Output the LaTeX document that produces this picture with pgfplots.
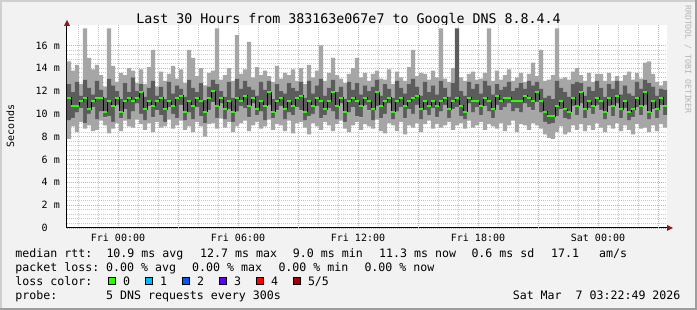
\documentclass[border=0pt]{standalone}
\usepackage{pgfplots}
\pgfplotsset{compat=1.18}
\usepackage{pgfplotstable}
\usepackage{fontspec}
\setmainfont{DejaVu Sans Mono}
\newcommand\fs[1]{\fontsize{#1}{#1}\selectfont}
\definecolor{bgc}{HTML}{F2F2F2}
\definecolor{shadea}{HTML}{CFCFCF}
\definecolor{shadeb}{HTML}{9E9E9E}
\definecolor{gridred}{HTML}{F4A0A0}
\definecolor{gridgray}{HTML}{C8C8C8}
\definecolor{lightsmoke}{HTML}{A6A6A6}
\definecolor{darksmoke}{HTML}{5C5C5C}
\definecolor{arrowc}{HTML}{8B1A1A}
\definecolor{wmc}{HTML}{B4B4B4}
\definecolor{loss0}{HTML}{26FF00}
\definecolor{loss1}{HTML}{00B8FF}
\definecolor{loss2}{HTML}{0059FF}
\definecolor{loss3}{HTML}{5E00FF}
\definecolor{loss4}{HTML}{FF0000}
\definecolor{loss5}{HTML}{A10000}

\pgfplotstableread{
x lo q2 q4 hi
-2.55 7.8 9.4 12.6 14.6
-2.35 8.9 9.6 11.9 13.8
-2.15 8.4 10.1 12.8 14.3
-1.95 9.3 10.5 11.6 12.6
-1.75 8.7 9.2 13.0 17.5
-1.55 9.0 10.0 12.3 14.9
-1.35 8.5 10.6 11.7 13.9
-1.15 8.6 9.5 12.9 14.3
-0.95 9.4 10.2 12.1 13.4
-0.75 9.0 9.7 11.4 12.4
-0.55 8.3 9.8 13.1 17.5
-0.35 8.7 9.3 12.5 14.2
-0.15 9.2 10.8 12.0 12.8
0.05 8.5 9.6 11.3 13.6
0.25 9.4 10.4 12.7 13.4
0.45 8.9 9.5 11.9 14.0
0.65 8.8 10.2 13.2 13.8
0.85 9.5 10.9 12.0 12.7
1.05 9.1 10.0 12.6 13.9
1.25 8.6 9.4 11.5 12.6
1.45 9.2 10.7 12.3 14.1
1.65 8.4 9.7 12.9 15.6
1.85 9.3 10.3 11.6 12.4
2.05 8.8 9.9 12.4 13.7
2.25 8.9 9.3 11.3 12.9
2.45 9.5 10.6 12.8 13.5
2.65 8.7 10.0 11.8 14.2
2.85 9.0 9.6 12.5 13.1
3.05 9.4 10.8 12.2 13.9
3.25 8.6 9.4 11.5 12.7
3.45 8.9 10.1 13.0 15.6
3.65 8.4 9.5 12.3 14.9
3.85 9.3 10.6 11.9 13.3
4.05 8.9 9.8 12.7 14.0
4.25 8.0 9.2 11.2 12.5
4.45 9.1 10.3 12.4 13.6
4.65 9.2 11.0 13.0 13.8
4.85 8.7 9.6 12.6 17.5
5.05 9.6 10.9 12.0 13.0
5.25 8.8 9.5 11.5 13.4
5.45 9.3 10.4 12.8 14.0
5.65 8.4 9.3 11.4 12.9
5.85 8.9 10.2 13.1 16.9
6.05 9.2 10.7 12.2 13.5
6.25 9.4 10.5 12.9 13.9
6.45 8.5 9.7 12.4 16.3
6.65 9.0 10.9 12.1 13.2
6.85 9.3 9.9 11.6 14.1
7.05 8.7 10.2 12.8 13.4
7.25 8.9 9.4 12.1 13.8
7.45 9.5 10.8 12.9 13.3
7.65 8.6 9.6 11.3 12.8
7.85 9.1 10.3 12.6 14.2
8.05 9.0 10.7 12.0 13.1
8.25 8.5 9.5 11.8 13.6
8.45 9.4 10.1 12.7 13.4
8.65 8.3 9.9 12.3 13.9
8.85 9.2 10.6 12.0 12.9
9.05 9.3 10.3 12.8 14.0
9.25 8.8 9.4 11.4 12.6
9.45 8.2 9.8 12.9 14.3
9.65 9.2 10.0 11.8 13.2
9.85 8.9 10.7 12.5 13.8
10.05 8.6 9.6 13.1 16.0
10.25 9.3 9.9 11.6 12.9
10.45 9.0 10.5 12.3 13.6
10.65 8.5 10.2 13.0 14.9
10.85 9.1 9.5 11.9 13.4
11.05 9.4 10.9 12.4 13.1
11.25 8.7 9.3 11.3 12.7
11.45 8.4 10.1 12.8 13.5
11.65 9.0 10.6 12.1 14.0
11.85 9.3 9.8 12.7 14.9
12.05 8.6 9.7 11.7 13.2
12.25 9.1 10.8 12.5 13.6
12.45 8.9 10.3 12.0 12.9
12.65 8.7 9.4 12.4 13.5
12.85 9.5 10.7 13.0 13.8
13.05 8.5 9.6 11.6 13.1
13.25 8.3 10.0 12.6 13.0
13.45 9.2 10.9 12.2 13.9
13.65 9.0 9.5 11.4 12.6
13.85 8.5 10.2 12.9 13.7
14.05 9.3 10.6 12.3 13.2
14.25 8.2 9.6 11.8 12.9
14.45 9.0 10.4 12.6 14.1
14.65 8.8 10.0 13.1 15.6
14.85 9.2 10.8 12.4 13.3
15.05 8.4 9.5 11.6 13.6
15.25 9.1 10.3 12.8 13.5
15.45 9.4 9.9 11.9 13.0
15.65 8.7 10.5 12.5 13.8
15.85 9.1 9.7 11.7 13.2
16.05 8.8 10.2 12.9 17.5
16.25 9.0 10.8 12.3 13.1
16.45 9.3 9.6 11.5 12.8
16.65 8.6 10.4 12.7 14.0
16.85 9.0 10.6 17.5 17.5
17.05 9.2 9.8 12.0 13.2
17.25 8.7 9.5 11.6 12.9
17.45 9.4 10.9 12.8 13.5
17.65 8.8 10.1 12.2 13.7
17.85 9.0 10.6 12.6 13.0
18.05 9.3 9.9 11.8 13.1
18.25 8.6 10.7 12.9 13.6
18.45 9.1 10.2 12.5 17.5
18.65 8.9 9.6 11.7 12.9
18.85 8.7 10.8 12.6 13.8
19.05 9.2 10.3 12.1 13.0
19.25 8.5 10.6 12.4 13.4
19.45 9.0 10.9 12.8 13.9
19.65 9.4 10.2 12.0 12.9
19.85 8.4 10.5 12.3 13.2
20.05 9.1 10.1 12.7 13.6
20.25 9.0 10.9 12.2 12.8
20.45 8.6 10.6 12.9 13.5
20.65 9.2 10.3 12.5 14.5
20.85 9.0 11.0 12.8 13.3
21.05 8.7 10.1 12.2 15.6
21.25 8.2 9.3 11.4 12.9
21.45 7.9 9.1 11.6 13.0
21.65 7.8 9.2 11.3 13.4
21.85 8.4 9.8 12.9 17.5
22.05 8.9 10.4 12.3 13.1
22.25 8.2 9.6 11.9 13.2
22.45 8.4 9.5 11.5 13.0
22.65 9.0 10.7 12.6 13.7
22.85 8.6 9.9 12.8 14.0
23.05 9.1 10.9 12.7 13.4
23.25 8.5 9.6 11.6 12.9
23.45 9.0 10.5 12.4 13.6
23.65 8.6 10.0 12.0 12.8
23.85 9.2 10.8 12.9 13.5
24.05 8.8 10.3 12.3 13.5
24.25 8.4 9.5 11.5 12.9
24.45 9.0 10.7 12.6 13.6
24.65 8.7 9.8 12.2 12.9
24.85 9.2 10.9 12.9 13.3
25.05 8.5 9.6 11.7 12.9
25.25 9.0 10.5 12.5 13.4
25.45 8.6 9.4 11.8 13.7
25.65 8.2 9.7 11.6 13.0
25.85 9.1 10.6 12.8 13.6
26.05 8.7 9.9 12.2 13.1
26.25 8.8 10.8 13.0 14.5
26.45 8.4 9.5 12.7 14.6
26.65 9.0 10.4 12.4 13.5
26.85 8.5 9.6 11.6 12.8
27.05 9.1 10.8 12.2 12.5
27.25 8.8 9.9 12.1 12.9
}\smoke

\pgfplotstableread{
x med
-2.55 11.4
-2.35 10.7
-2.15 10.7
-1.95 11.1
-1.75 11.4
-1.55 10.4
-1.35 11.1
-1.15 11.4
-0.95 11.4
-0.75 10.2
-0.55 11.1
-0.35 10.7
-0.15 11.4
0.05 10.2
0.25 11.1
0.45 11.4
0.65 11.1
0.85 11.4
1.05 11.9
1.25 10.4
1.45 11.1
1.65 10.7
1.85 11.1
2.05 11.4
2.25 10.4
2.45 11.1
2.65 10.7
2.85 11.4
3.05 11.6
3.25 10.2
3.45 11.1
3.65 10.7
3.85 11.4
4.05 11.1
4.25 10.2
4.45 11.4
4.65 12.0
4.85 10.7
5.05 11.4
5.25 10.4
5.45 11.1
5.65 10.2
5.85 11.4
6.05 11.1
6.25 11.6
6.45 10.7
6.65 11.4
6.85 10.4
7.05 11.1
7.25 10.7
7.45 11.9
7.65 10.2
7.85 11.1
8.05 11.4
8.25 10.4
8.45 11.1
8.65 10.7
8.85 11.4
9.05 11.6
9.25 10.2
9.45 11.1
9.65 10.7
9.85 11.4
10.05 11.1
10.25 10.4
10.45 11.1
10.65 11.9
10.85 10.7
11.05 11.4
11.25 10.2
11.45 11.1
11.65 11.4
11.85 11.1
12.05 10.7
12.25 11.4
12.45 11.1
12.65 10.4
12.85 11.9
13.05 10.7
13.25 11.1
13.45 11.4
13.65 10.2
13.85 11.1
14.05 11.4
14.25 10.7
14.45 11.1
14.65 11.4
14.85 11.6
15.05 10.4
15.25 11.1
15.45 10.7
15.65 11.1
15.85 10.7
16.05 11.1
16.25 11.4
16.45 10.4
16.65 11.1
16.85 11.4
17.05 10.7
17.25 10.2
17.45 11.4
17.65 11.1
17.85 11.1
18.05 10.7
18.25 11.4
18.45 11.1
18.65 10.4
18.85 11.6
19.05 11.1
19.25 11.4
19.45 11.4
19.65 11.1
19.85 11.1
20.05 11.1
20.25 11.6
20.45 11.4
20.65 11.1
20.85 11.9
21.05 11.1
21.25 10.2
21.45 9.8
21.65 9.8
21.85 10.7
22.05 11.1
22.25 10.4
22.45 10.2
22.65 11.4
22.85 10.7
23.05 11.9
23.25 10.4
23.45 11.1
23.65 10.7
23.85 11.4
24.05 11.1
24.25 10.2
24.45 11.4
24.65 10.7
24.85 11.6
25.05 10.4
25.25 11.1
25.45 10.2
25.65 10.4
25.85 11.4
26.05 10.7
26.25 11.9
26.45 10.2
26.65 11.1
26.85 10.4
27.05 11.4
27.25 10.7
27.45 10.7
}\median

\begin{document}
\begin{tikzpicture}
\useasboundingbox (0pt,0pt) rectangle (697pt,310pt);
\fill[bgc] (0pt,0pt) rectangle (697pt,310pt);
\fill[shadea] (0pt,308pt) rectangle (697pt,310pt);
\fill[shadea] (0pt,0pt) rectangle (2pt,310pt);
\fill[shadeb] (0pt,0pt) rectangle (697pt,2pt);
\fill[shadeb] (695pt,0pt) rectangle (697pt,310pt);

\node[font=\fs{13.3}, anchor=base, inner sep=0pt] at (348.5pt,286pt) {Last 30 Hours from 383163e067e7 to Google DNS 8.8.4.4};
\node[font=\fs{8.2}, text=wmc, rotate=-90, anchor=west, inner sep=0pt] at (688pt,305pt) {RRDTOOL / TOBI OETIKER};
\node[font=\fs{10}, rotate=90, inner sep=0pt] at (10.5pt,184pt) {Seconds};

\begin{axis}[
  at={(67pt,82pt)}, anchor=south west,
  scale only axis, width=600pt, height=203pt,
  xmin=-2.55, xmax=27.45, ymin=0, ymax=17.79,
  ybar stacked, bar width=0.205,
  axis lines*=left,
  axis line style={black, line width=1pt},
  axis background/.style={fill=white},
  xtick={0,6,12,18,24},
  xticklabels={Fri 00:00,Fri 06:00,Fri 12:00,Fri 18:00,Sat 00:00},
  extra x ticks={3,9,15,21,27},
  extra x tick labels={},
  extra x tick style={grid=major},
  minor xtick={-2,-1,1,2,4,5,7,8,10,11,13,14,16,17,19,20,22,23,25,26},
  ytick={0,2,4,6,8,10,12,14,16},
  yticklabels={0\phantom{mm},2 m,4 m,6 m,8 m,10 m,12 m,14 m,16 m},
  minor y tick num=4,
  grid=both,
  major grid style={draw=gridred, dash pattern=on 1pt off 1pt, line width=0.8pt},
  minor grid style={draw=gridgray, dash pattern=on 1pt off 1pt, line width=0.8pt},
  major tick length=0pt, minor tick length=0pt,
  xticklabel style={font=\fs{10}, inner sep=0pt, anchor=north, yshift=-5.7pt},
  yticklabel style={font=\fs{10}, inner sep=0pt, anchor=east, xshift=-7pt},
]
\addplot[draw=none, fill=none] table[x expr=\thisrow{x}+0.1, y=lo]{\smoke};
\addplot[draw=none, fill=lightsmoke] table[x expr=\thisrow{x}+0.1, y expr=\thisrow{q2}-\thisrow{lo}]{\smoke};
\addplot[draw=none, fill=darksmoke] table[x expr=\thisrow{x}+0.1, y expr=\thisrow{q4}-\thisrow{q2}]{\smoke};
\addplot[draw=none, fill=lightsmoke] table[x expr=\thisrow{x}+0.1, y expr=\thisrow{hi}-\thisrow{q4}]{\smoke};
\end{axis}

\begin{axis}[
  at={(67pt,82pt)}, anchor=south west,
  scale only axis, width=600pt, height=203pt,
  xmin=-2.55, xmax=27.45, ymin=0, ymax=17.79,
  hide axis,
]
\addplot[black, line width=1pt, const plot mark left] table[x=x,y=med]{\median};
\addplot[loss0, line width=1.8pt, jump mark left] table[x=x,y=med]{\median};
\end{axis}

\fill[arrowc] (667pt,85pt) -- (673pt,82pt) -- (667pt,79pt) -- cycle;
\fill[arrowc] (64pt,284pt) -- (67pt,290pt) -- (70pt,284pt) -- cycle;

\begin{scope}[every node/.style={anchor=base west, inner sep=0pt, font=\fs{11.6}}]
\node at (15.3pt,52.3pt) {median rtt:};
\node at (106.3pt,52.3pt) {10.9 ms avg};
\node at (200pt,52.3pt) {12.7 ms max};
\node at (292.7pt,52.3pt) {9.0 ms min};
\node at (379pt,52.3pt) {11.3 ms now};
\node at (471.3pt,52.3pt) {0.6 ms sd};
\node at (551pt,52.3pt) {17.1};
\node at (599pt,52.3pt) {am/s};

\node at (15.3pt,38.3pt) {packet loss:};
\node at (106pt,38.3pt) {0.00 \% avg};
\node at (192pt,38.3pt) {0.00 \% max};
\node at (278.3pt,38.3pt) {0.00 \% min};
\node at (364.3pt,38.3pt) {0.00 \% now};

\node at (15.3pt,24.3pt) {loss color:};
\node at (122.8pt,24.3pt) {0};
\node at (159.8pt,24.3pt) {1};
\node at (196.8pt,24.3pt) {2};
\node at (233.8pt,24.3pt) {3};
\node at (270.8pt,24.3pt) {4};
\node at (307.8pt,24.3pt) {5/5};

\node at (15.3pt,10.3pt) {probe:};
\node at (106pt,10.3pt) {5 DNS requests every 300s};
\node at (512.6pt,10.3pt) {Sat Mar\ \ 7 03:22:49 2026};
\end{scope}

\foreach \xx/\cc in {108.5/loss0,145.5/loss1,182.5/loss2,219.5/loss3,256.5/loss4,293.5/loss5}{
  \filldraw[fill=\cc, draw=black, line width=0.8pt] (\xx pt,25.5pt) rectangle ++(7pt,7pt);
}
\end{tikzpicture}
\end{document}
